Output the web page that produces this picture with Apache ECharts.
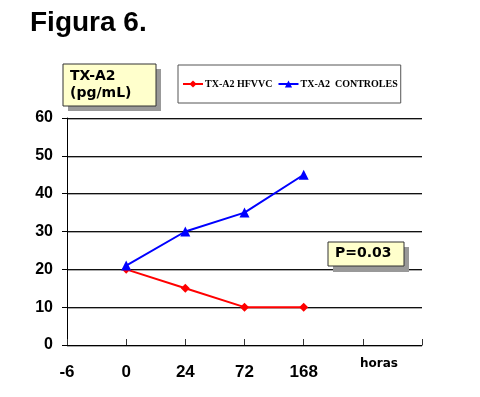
<!DOCTYPE html>
<html>
<head>
<meta charset="utf-8">
<script src="https://cdn.jsdelivr.net/npm/echarts@6/dist/echarts.min.js"></script>
<style>
html,body{margin:0;padding:0;background:#fff;}
#chart{width:480px;height:397px;}
</style>
</head>
<body>
<div id="chart"></div>
<script>
const categories = ['-6', '0', '24', '72', '168', '', ''];
const hfvvc = [null, 20, 15, 10, 10, null, null];
const controles = [null, 21, 30, 35, 45, null, null];
const yTicks = [0, 10, 20, 30, 40, 50, 60];
const titleText = 'Figura 6.';
const unitText = 'TX-A2\n(pg/mL)';
const pText = 'P=0.03';
const xName = 'horas';

const chart = echarts.init(document.getElementById('chart'));
const option = {
  backgroundColor: '#fff',
  animation: false,
  grid: { left: 67, right: 58, top: 118, bottom: 52 },
  legend: {
    left: 178, top: 65,
    padding: [14, 3, 14, 4],
    itemGap: 5, itemWidth: 20, itemHeight: 9,
    borderColor: '#555', borderWidth: 1, backgroundColor: '#fff',
    textStyle: { fontFamily: 'Liberation Serif', fontWeight: 'bold', fontSize: 10, color: '#000', padding: [0, 0, 0, -3] },
    data: ['TX-A2 HFVVC', 'TX-A2  CONTROLES']
  },
  xAxis: {
    type: 'category', data: categories, boundaryGap: false,
    axisLine: { lineStyle: { color: '#000', width: 1 } },
    axisTick: { inside: true, length: 6, lineStyle: { color: '#333' }, interval: 0 },
    axisLabel: { interval: 0, margin: 19, fontFamily: 'Liberation Sans', fontWeight: 'bold', fontSize: 17, color: '#000' }
  },
  yAxis: {
    type: 'value', min: yTicks[0], max: yTicks[yTicks.length - 1], interval: 10,
    axisLine: { show: true, lineStyle: { color: '#000', width: 1 } },
    axisTick: { show: true, length: 5, lineStyle: { color: '#000' } },
    axisLabel: { margin: 14, fontFamily: 'Liberation Sans', fontWeight: 'bold', fontSize: 16, color: '#000' },
    splitLine: { show: true, lineStyle: { color: '#111', width: 1, shadowColor: '#aaa', shadowOffsetY: 1, shadowBlur: 0 } }
  },
  series: [
    {
      name: 'TX-A2 HFVVC', type: 'line', data: hfvvc,
      symbol: 'diamond', symbolSize: 9,
      itemStyle: { color: '#ff0000' }, lineStyle: { color: '#ff0000', width: 2 }
    },
    {
      name: 'TX-A2  CONTROLES', type: 'line', data: controles,
      symbol: 'triangle', symbolSize: 10,
      itemStyle: { color: '#0000ff' }, lineStyle: { color: '#0000ff', width: 2 }
    }
  ],
  graphic: [
    { type: 'text', left: 30, top: 9, style: { text: titleText, font: 'bold 28px "Liberation Sans"', fill: '#000' } },
    { type: 'rect', shape: { x: 68, y: 69, width: 93, height: 42 }, style: { fill: '#999' }, z: 10 },
    { type: 'rect', shape: { x: 63, y: 64, width: 93, height: 42 }, style: { fill: '#ffffcc', stroke: '#333', lineWidth: 1 }, z: 11 },
    { type: 'text', x: 70, y: 68, z: 12, style: { text: unitText, font: 'bold 14px "DejaVu Sans"', fill: '#000', lineHeight: 17 } },
    { type: 'rect', shape: { x: 333, y: 247, width: 76, height: 25 }, style: { fill: '#999' }, z: 10 },
    { type: 'rect', shape: { x: 328, y: 242, width: 76, height: 24 }, style: { fill: '#ffffcc', stroke: '#333', lineWidth: 1 }, z: 11 },
    { type: 'text', x: 335, y: 246, z: 12, style: { text: pText, font: 'bold 14px "DejaVu Sans"', fill: '#000' } },
    { type: 'text', x: 360, y: 358, z: 12, style: { text: xName, font: 'bold 12px "DejaVu Sans"', fill: '#000' } }
  ]
};
chart.setOption(option);
</script>
</body>
</html>
